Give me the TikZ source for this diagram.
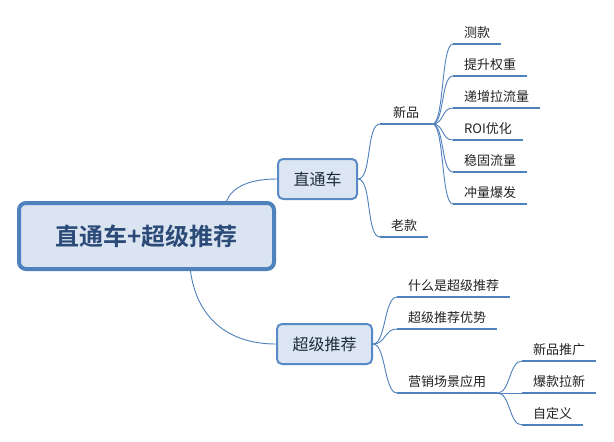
\documentclass[tikz,border=0pt]{standalone}
\usepackage{fontspec}
\newfontfamily\cjk[BoldFont={Noto Sans CJK SC Bold}]{Noto Sans CJK SC}
\definecolor{lineblue}{HTML}{4F81BD}
\definecolor{rootborder}{HTML}{4F81BD}
\definecolor{rootfill}{HTML}{DBE5F1}
\definecolor{roottext}{HTML}{2B4A78}
\definecolor{boxborder}{HTML}{5A8AC6}
\definecolor{boxfill}{HTML}{DCE6F2}
\definecolor{maintext}{HTML}{1F2A3A}
\definecolor{leaftext}{HTML}{222222}
\tikzset{
  conn/.style={draw=lineblue, line width=0.9pt},
  uline/.style={draw=lineblue, line width=2.6pt},
  rootbox/.style={draw=rootborder, line width=4pt, fill=rootfill, rounded corners=7pt,
    font=\cjk\bfseries\fontsize{24}{28}\selectfont, text=roottext,
    minimum width=255pt, minimum height=66pt},
  mainbox/.style={draw=boxborder, line width=2pt, fill=boxfill, rounded corners=5pt,
    font=\cjk\fontsize{16}{19}\selectfont, text=maintext, minimum height=40pt},
  topic/.style={anchor=south west, inner xsep=11pt, inner ysep=5pt,
    font=\cjk\fontsize{13}{16}\selectfont, text=leaftext},
}
\begin{document}
\begin{tikzpicture}[x=1pt,y=-1pt]
\fill[white] (0,0) rectangle (614,442);
\useasboundingbox (0,0) rectangle (614,442);

\node[rootbox] (root) at (146.5,236) {直通车+超级推荐};
\node[mainbox, minimum width=79pt] (zt) at (317.5,179) {直通车};
\node[mainbox, minimum width=95pt] (cj) at (324.5,344) {超级推荐};

\node[topic, minimum width=52pt] (xp) at (380,124) {新品};
\node[topic] (lk) at (380,237) {老款};

\node[topic] (c1) at (453,44) {测款};
\node[topic] (c2) at (453,76) {提升权重};
\node[topic] (c3) at (453,108) {递增拉流量};
\node[topic] (c4) at (453,140) {ROI优化};
\node[topic] (c5) at (453,172) {稳固流量};
\node[topic] (c6) at (453,204) {冲量爆发};

\node[topic] (s1) at (397,297) {什么是超级推荐};
\node[topic] (s2) at (397,329) {超级推荐优势};
\node[topic] (s3) at (397,393) {营销场景应用};

\node[topic] (m1) at (522,361) {新品推广};
\node[topic] (m2) at (522,393) {爆款拉新};
\node[topic] (m3) at (522,425) {自定义};

\draw[conn] ([xshift=80pt]root.north) .. controls +(6,-14) and +(-28,0) .. (zt.west);
\draw[conn] ([xshift=44pt]root.south) .. controls +(6,45) and +(-50,0) .. (cj.west);
\foreach \n in {xp,lk}
  \draw[conn] (zt.east) .. controls +(14,0) and +(-14,0) .. (\n.south west);
\foreach \n in {c1,c2,c3,c4,c5,c6}
  \draw[conn] (xp.south east) .. controls +(12,0) and +(-12,0) .. (\n.south west);
\foreach \n in {s1,s2,s3}
  \draw[conn] (cj.east) .. controls +(13,0) and +(-13,0) .. (\n.south west);
\foreach \n in {m1,m2,m3}
  \draw[conn] (s3.south east) .. controls +(13,0) and +(-13,0) .. (\n.south west);

\foreach \n in {xp,lk,c1,c2,c3,c4,c5,c6,s1,s2,s3,m1,m2,m3}
  \draw[uline] (\n.south west) -- (\n.south east);
\end{tikzpicture}
\end{document}
